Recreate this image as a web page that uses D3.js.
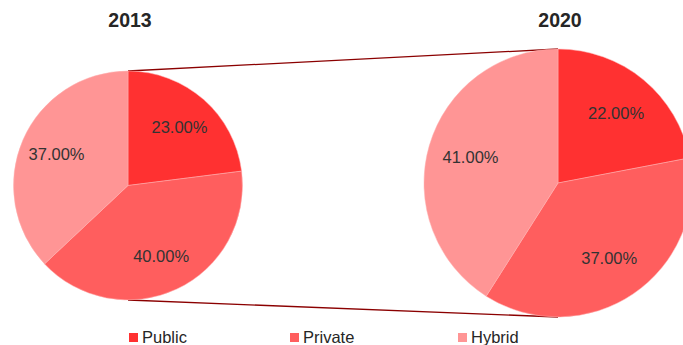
<!DOCTYPE html>
<html>
<head>
<meta charset="utf-8">
<script src="https://cdn.jsdelivr.net/npm/d3@7"></script>
<style>
  body { margin: 0; background: #fff; }
  svg { display: block; font-family: "Liberation Sans", Arial, sans-serif; }
</style>
</head>
<body>
<div id="chart"></div>
<script>
const categories = ["Public", "Private", "Hybrid"];
const years = ["2013", "2020"];
const values2013 = [23, 40, 37];
const values2020 = [22, 37, 41];
const colors = ["#ff3131", "#ff5e5e", "#ff9595"];

const dimensions = { width: 683, height: 345 };

// pie placement (left small, right large)
const pies = [
  { year: years[0], values: values2013, cx: 128, cy: 185.5, r: 114.5 },
  { year: years[1], values: values2020, cx: 558, cy: 183, r: 134 },
];

const svg = d3
  .select("#chart")
  .append("svg")
  .attr("width", dimensions.width)
  .attr("height", dimensions.height);

const color = d3.scaleOrdinal().domain(categories).range(colors);

const pie = d3.pie().sort(null).value((d) => d.value);

// connector lines between pie tops and bottoms
const connectors = svg.append("g").classed("connectors", true);
[-1, 1].forEach((side) => {
  connectors
    .append("line")
    .attr("x1", pies[0].cx)
    .attr("y1", pies[0].cy + side * pies[0].r)
    .attr("x2", pies[1].cx)
    .attr("y2", pies[1].cy + side * pies[1].r)
    .attr("stroke", "#8b0000")
    .attr("stroke-width", 1.3);
});

pies.forEach((p) => {
  const data = categories.map((c, i) => ({ cat: c, value: p.values[i] }));
  const arcs = pie(data);
  const arc = d3.arc().innerRadius(0).outerRadius(p.r);
  const labelArc = d3.arc().innerRadius(p.r * 0.68).outerRadius(p.r * 0.68);

  const g = svg.append("g").attr("transform", `translate(${p.cx},${p.cy})`);

  g.selectAll("path")
    .data(arcs)
    .join("path")
    .attr("d", arc)
    .attr("fill", (d) => color(d.data.cat))
    .attr("stroke", "#ffb0b0")
    .attr("stroke-width", 0.5);

  g.selectAll("text")
    .data(arcs)
    .join("text")
    .attr("transform", (d) => `translate(${labelArc.centroid(d)})`)
    .attr("text-anchor", "middle")
    .attr("dy", "0.35em")
    .attr("fill", "#333")
    .style("font-size", "16.5px")
    .text((d) => d3.format(".2f")(d.data.value) + "%");

  svg.append("text")
    .attr("x", p.cx + 2)
    .attr("y", 27)
    .attr("text-anchor", "middle")
    .attr("fill", "#262626")
    .style("font-size", "19.5px")
    .style("font-weight", "bold")
    .text(p.year);
});

// legend
const legendX = d3.scaleOrdinal().domain(categories).range([129, 290, 458]);
const legend = svg.append("g").classed("legend", true);
const items = legend
  .selectAll("g")
  .data(categories)
  .join("g")
  .attr("transform", (d) => `translate(${legendX(d)},333)`);

items.append("rect")
  .attr("width", 9)
  .attr("height", 9)
  .attr("fill", (d) => color(d));

items.append("text")
  .attr("x", 13)
  .attr("y", 10)
  .attr("fill", "#262626")
  .style("font-size", "16.5px")
  .text((d) => d);
</script>
</body>
</html>
